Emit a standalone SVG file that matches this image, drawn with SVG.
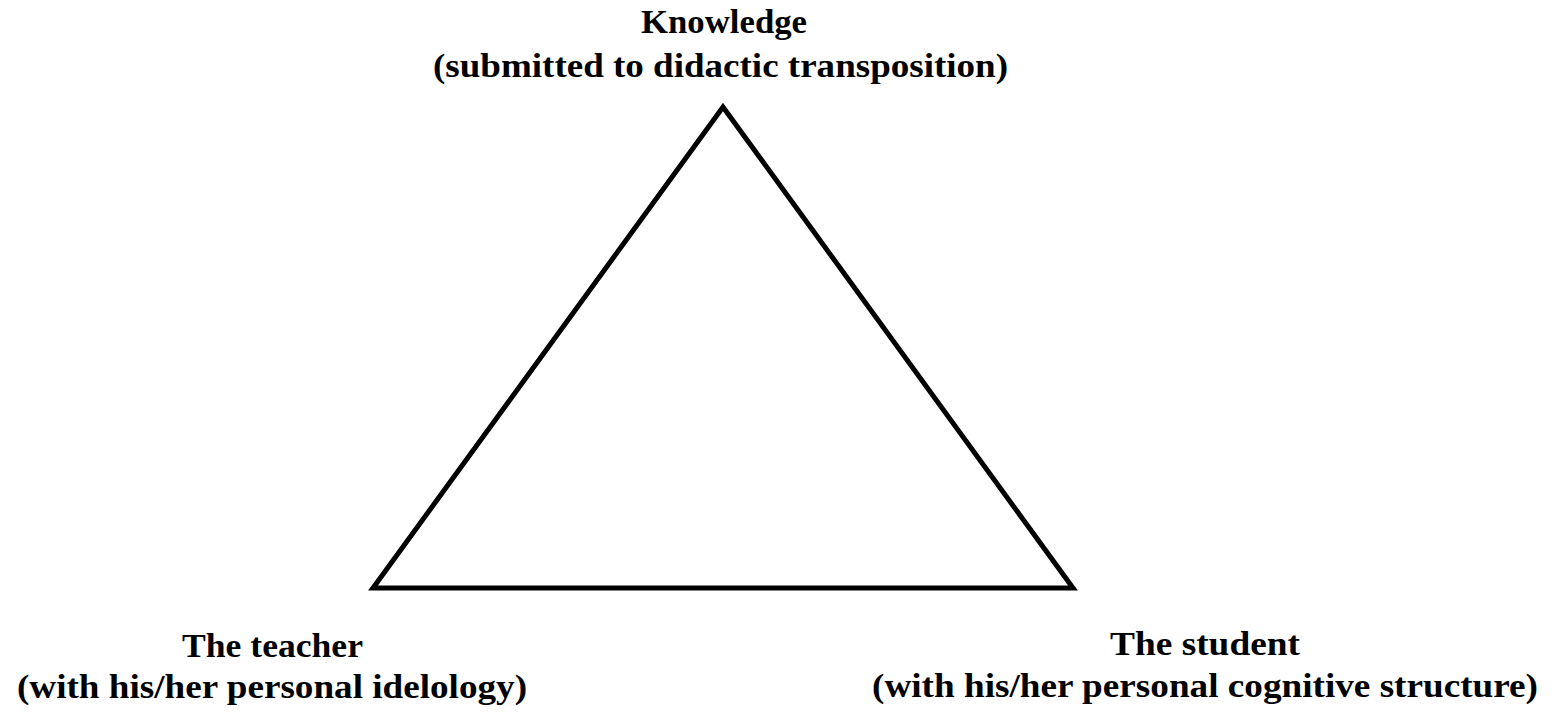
<svg xmlns="http://www.w3.org/2000/svg" width="1553" height="712" viewBox="0 0 1553 712">
<style>
.lbl{font-family:"Liberation Serif","Times New Roman",serif;font-weight:bold;font-size:33px;fill:#000;text-anchor:middle}
.edge{fill:none;stroke:#000;stroke-width:5;stroke-linejoin:miter;stroke-miterlimit:10}
</style>
<rect width="1553" height="712" fill="#fff"/>
<g id="connectors">
<polygon class="edge" points="723,107 1073,588 373,588"/>
</g>
<g id="knowledge">
<text class="lbl" x="724" y="33" textLength="166" lengthAdjust="spacingAndGlyphs">Knowledge</text>
<text class="lbl" x="720.5" y="77" textLength="575" lengthAdjust="spacingAndGlyphs">(submitted to didactic transposition)</text>
</g>
<g id="teacher">
<text class="lbl" x="272.5" y="657" textLength="181" lengthAdjust="spacingAndGlyphs">The teacher</text>
<text class="lbl" x="272" y="698" textLength="510" lengthAdjust="spacingAndGlyphs">(with his/her personal idelology)</text>
</g>
<g id="student">
<text class="lbl" x="1205" y="655" textLength="190" lengthAdjust="spacingAndGlyphs">The student</text>
<text class="lbl" x="1205" y="697" textLength="666" lengthAdjust="spacingAndGlyphs">(with his/her personal cognitive structure)</text>
</g>
</svg>
